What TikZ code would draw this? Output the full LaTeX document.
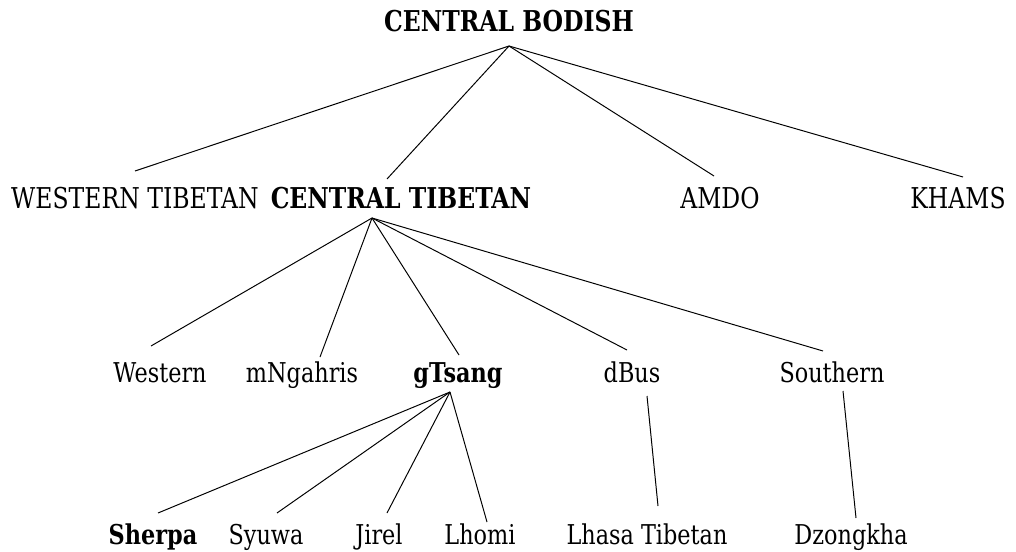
\documentclass[tikz,border=0pt]{standalone}
\usepackage{fontspec}
\setmainfont{DejaVu Serif}[FakeStretch=0.82]
\usepackage{tikz}
\usetikzlibrary{calc,positioning}
\tikzset{
  lang/.style={anchor=base, inner sep=0pt},
  upper/.style={lang, font=\fontsize{20.4}{24}\selectfont},
  lower/.style={lang, font=\fontsize{19.4}{23}\selectfont},
  branch/.style={line width=0.7pt}
}
\begin{document}
\begin{tikzpicture}[x=0.025cm,y=-0.025cm]
  \useasboundingbox (0,0) rectangle (1016,551);
  % top
  \node[upper] (cb) at (509,32) {\textbf{CENTRAL BODISH}};
  % second row
  \node[upper] (wt)    at (135,208) {WESTERN TIBETAN};
  \node[upper] (ct)    at (401,208) {\textbf{CENTRAL TIBETAN}};
  \node[upper] (amdo)  at (720,208) {AMDO};
  \node[upper] (khams) at (958,208) {KHAMS};
  % third row
  \node[lower] (western)  at (160,382) {Western};
  \node[lower] (mngahris) at (302,382) {mNgahris};
  \node[lower] (gtsang)   at (458,382) {\textbf{gTsang}};
  \node[lower] (dbus)     at (632,382) {dBus};
  \node[lower] (southern) at (832,382) {Southern};
  % bottom row
  \node[lower] (sherpa)   at (153,544) {\textbf{Sherpa}};
  \node[lower] (syuwa)    at (266,544) {Syuwa};
  \node[lower] (jirel)    at (379,544) {Jirel};
  \node[lower] (lhomi)    at (480,544) {Lhomi};
  \node[lower] (lhasa)    at (647,544) {Lhasa Tibetan};
  \node[lower] (dzongkha) at (851,544) {Dzongkha};
  % fork points
  \coordinate (cb-fork)  at ($(cb.base)+(0,14)$);
  \coordinate (ct-fork)  at ($(ct.base)+(-29,10)$);
  \coordinate (gt-fork)  at ($(gtsang.base)+(-8,10)$);
  \coordinate (db-fork)  at ($(dbus.base)+(15,14)$);
  \coordinate (so-fork)  at ($(southern.base)+(11,9)$);
  % branches
  \draw[branch] (cb-fork) -- ($(wt.base)+(0,-37)$);
  \draw[branch] (cb-fork) -- ($(ct.base)+(-14,-29)$);
  \draw[branch] (cb-fork) -- ($(amdo.base)+(-6,-32)$);
  \draw[branch] (cb-fork) -- ($(khams.base)+(5,-31)$);
  \draw[branch] (ct-fork) -- ($(western.base)+(-9,-36)$);
  \draw[branch] (ct-fork) -- ($(mngahris.base)+(18,-25)$);
  \draw[branch] (ct-fork) -- ($(gtsang.base)+(1,-27)$);
  \draw[branch] (ct-fork) -- ($(dbus.base)+(-5,-32)$);
  \draw[branch] (ct-fork) -- ($(southern.base)+(-9,-31)$);
  \draw[branch] (gt-fork) -- ($(sherpa.base)+(5,-31)$);
  \draw[branch] (gt-fork) -- ($(syuwa.base)+(11,-31)$);
  \draw[branch] (gt-fork) -- ($(jirel.base)+(8,-31)$);
  \draw[branch] (gt-fork) -- ($(lhomi.base)+(7,-22)$);
  \draw[branch] (db-fork) -- ($(lhasa.base)+(11,-38)$);
  \draw[branch] (so-fork) -- ($(dzongkha.base)+(5,-26)$);
\end{tikzpicture}
\end{document}
